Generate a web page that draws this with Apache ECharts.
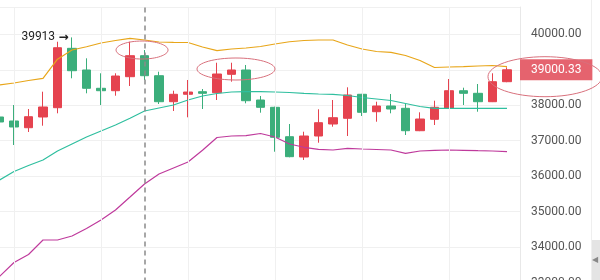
<!DOCTYPE html>
<html><head><meta charset="utf-8">
<script src="https://cdn.jsdelivr.net/npm/echarts@6/dist/echarts.min.js"></script>
<style>html,body{margin:0;padding:0;background:#fff}#c{width:600px;height:280px}</style>
</head><body><div id="c"></div>
<script>
// ---- data ----
const categories = [0,1,2,3,4,5,6,7,8,9,10,11,12,13,14,15,16,17,18,19,20,21,22,23,24,25,26,27,28,29,30,31,32,33,34,35];
const opens  = [37669,37556,37367,37669,37931,39605,38994,38478,38410,38805,39397,38833,38100,38309,38382,38354,38872,38994,38148,37942,37113,36541,37133,37471,37632,38309,37818,37979,37914,37282,37604,37914,38410,38337,38100,38664];
const closes = [37528,37387,37677,37951,39622,38974,38478,38410,38824,39397,38833,38100,38309,38373,38337,38881,38994,38128,37942,37096,36550,37133,37508,37649,38289,37801,37979,37894,37282,37612,37942,38410,38337,38100,38664,39000.33];
const lows   = [37359,36879,37246,37423,37773,38760,38337,38007,38269,38543,38712,38035,37838,37660,37894,38148,38664,38055,37790,36690,36533,36457,36944,37395,37133,37697,37536,37773,37161,37270,37443,37900,38007,37818,38090,38650];
const highs  = [38204,38007,37894,38382,39791,39913,39323,38901,38901,39791,39557,38946,38410,38712,38458,39199,39199,39135,38261,37960,37471,37254,37886,38148,38506,38320,38100,38317,38063,37801,38128,38740,38495,38599,38901,39070];
const upper  = [38571,38627,38698,38760,39300,39557,39650,39755,39825,39887,39839,39783,39774,39769,39642,39538,39586,39614,39656,39727,39791,39825,39839,39839,39698,39586,39515,39493,39402,39261,39064,39078,39087,39106,39120,39087];
const middle = [35893,36132,36302,36456,36710,36908,37105,37274,37443,37632,37838,37922,38007,38148,38261,38331,38373,38382,38382,38373,38359,38337,38317,38309,38275,38218,38176,38134,38049,37965,37914,37914,37914,37914,37914,37914];
const lower  = [33172,33567,33793,34201,34201,34314,34525,34765,35047,35413,35780,36062,36231,36400,36730,37091,37133,37142,37204,37105,36908,36815,36758,36738,36786,36767,36752,36738,36645,36710,36730,36738,36730,36718,36710,36690];
const yTicks = [33000,34000,35000,36000,37000,38000,39000,40000];
const gridCats = [1,7,13,19,25,31];
const cursorCat = 10;
const lastPrice = 39000.33;
const maxMark = [5, 39913];
const ellipseCenters = [[9.83, 39557],[16.31, 39022],[37.62, 38805]];

// ---- chart ----
const chart = echarts.init(document.getElementById('c'), null, {renderer:'canvas'});
const RED = '#e5434f', GREEN = '#3bae7b';
const candleData = categories.map((c,i)=>[c, opens[i], closes[i], lows[i], highs[i]]);
const lineData = arr => categories.map((c,i)=>[c, arr[i]]);
const bandLine = (arr, color) => ({
  type:'line', data: lineData(arr), showSymbol:false, symbol:'none', z:3, silent:true,
  lineStyle:{color, width:1.2}
});

const option = {
  animation:false,
  grid:{left:0, width:520, top:7, height:275.6, containLabel:false, outerBoundsMode:'none'},
  xAxis:{type:'value', min:0.0345, max:35.897, show:false},
  yAxis:{type:'value', position:'right', min:33000, max:40770, interval:1000,
    axisLine:{show:true, lineStyle:{color:'#e8e8e8'}}, axisTick:{show:false},
    axisLabel:{margin:11, color:'#555', fontSize:12, fontFamily:'Roboto',
      formatter: v => yTicks.indexOf(v) >= 0 ? v.toFixed(2) : ''},
    splitLine:{lineStyle:{color:'#f0f0f0'}}},
  series:[
    {type:'line', data: lineData(middle), showSymbol:false, symbol:'none', z:0, silent:true,
      lineStyle:{opacity:0},
      markLine:{silent:true, symbol:['none','none'], label:{show:false}, animation:false,
        lineStyle:{color:'#f0f0f0', type:'solid', width:1},
        data: gridCats.map(v=>({xAxis:v}))}},
    {type:'candlestick', data:candleData, encode:{x:0, y:[1,2,3,4]}, barWidth:9, z:2,
      itemStyle:{color:RED, color0:GREEN, borderColor:RED, borderColor0:GREEN, borderWidth:1},
      markPoint:{silent:true, animation:false, data:[{coord:maxMark, symbol:'circle', symbolSize:1,
        itemStyle:{color:'rgba(0,0,0,0)'},
        label:{show:true, position:'left', distance:3, formatter: '{a|' + maxMark[1] + '} {b|\u2192}',
          rich:{a:{color:'#222', fontSize:12, fontFamily:'Roboto'},
                b:{color:'#222', fontSize:12, fontFamily:'DejaVu Sans', fontWeight:'bold'}}}}]},
      markLine:{silent:true, symbol:['none','none'], animation:false,
        data:[
          {xAxis:cursorCat, lineStyle:{color:'#8a8a8a', type:[5,4], width:1.5}, label:{show:false}}
        ]}},
    {type:'line', data: lineData(middle), showSymbol:false, symbol:'none', z:5, silent:true,
      lineStyle:{color:'rgba(0,0,0,0)', width:0},
      markLine:{silent:true, symbol:['none','none'], animation:false,
        lineStyle:{color:'rgba(0,0,0,0)', width:0},
        data:[{yAxis:lastPrice, label:{show:true, position:'end', distance:0,
            formatter: lastPrice.toFixed(2), backgroundColor:'#e5636e', color:'#fff',
            padding:[3,11,3,11], lineHeight:15, fontSize:12, fontFamily:'Roboto'}}]}},
    bandLine(upper, '#e8a61a'),
    bandLine(middle, '#2fbf9f'),
    bandLine(lower, '#bf3a9c')
  ]
};
chart.setOption(option);

const radii = [[26,9],[39,11],[57,20]];
const graphics = ellipseCenters.map((c,k)=>{
  const p = chart.convertToPixel({gridIndex:0}, c);
  return {type:'ellipse', silent:true, z:10, shape:{cx:p[0], cy:p[1], rx:radii[k][0], ry:radii[k][1]},
    style:{fill:'none', stroke:'#d8707c', lineWidth:1}};
});
graphics.push({type:'line', silent:true, shape:{x1:591.5,y1:0,x2:591.5,y2:280}, style:{stroke:'#efefef', lineWidth:1}});
graphics.push({type:'rect', silent:true, shape:{x:592,y:240,width:8,height:40}, style:{fill:'#e4e4e4'}});
graphics.push({type:'text', silent:true, x:592, y:256, style:{text:'\u25C0', fontSize:8, fill:'#888'}});
chart.setOption({graphic: graphics});
</script></body></html>
